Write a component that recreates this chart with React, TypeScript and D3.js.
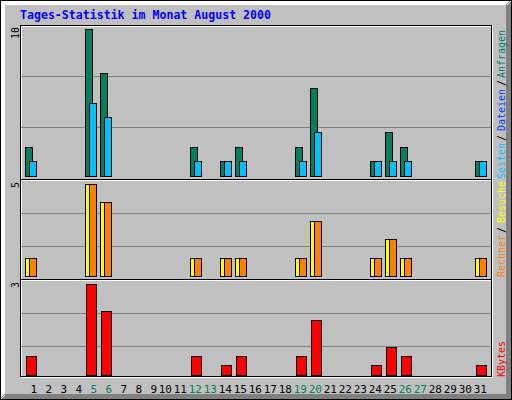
import * as d3 from "d3";
import React from "react";

// Daily statistics for August 2000 (webalizer style)
const days = [1, 2, 3, 4, 5, 6, 7, 8, 9, 10, 11, 12, 13, 14, 15, 16, 17, 18, 19, 20, 21, 22, 23, 24, 25, 26, 27, 28, 29, 30, 31];
const weekendDays = [5, 6, 12, 13, 19, 20, 26, 27];

const hits = [2, 0, 0, 0, 10, 7, 0, 0, 0, 0, 0, 2, 0, 1, 2, 0, 0, 0, 2, 6, 0, 0, 0, 1, 3, 2, 0, 0, 0, 0, 1];
const files = [0, 0, 0, 0, 0, 0, 0, 0, 0, 0, 0, 0, 0, 0, 0, 0, 0, 0, 0, 0, 0, 0, 0, 0, 0, 0, 0, 0, 0, 0, 0];
const pages = [1, 0, 0, 0, 5, 4, 0, 0, 0, 0, 0, 1, 0, 1, 1, 0, 0, 0, 1, 3, 0, 0, 0, 1, 1, 1, 0, 0, 0, 0, 1];
const visits = [1, 0, 0, 0, 5, 4, 0, 0, 0, 0, 0, 1, 0, 1, 1, 0, 0, 0, 1, 3, 0, 0, 0, 1, 2, 1, 0, 0, 0, 0, 1];
const sites = [1, 0, 0, 0, 5, 4, 0, 0, 0, 0, 0, 1, 0, 1, 1, 0, 0, 0, 1, 3, 0, 0, 0, 1, 2, 1, 0, 0, 0, 0, 1];
const kbytes = [0.62, 0, 0, 0, 3, 2.1, 0, 0, 0, 0, 0, 0.62, 0, 0.32, 0.62, 0, 0, 0, 0.62, 1.8, 0, 0, 0, 0.32, 0.91, 0.62, 0, 0, 0, 0, 0.32];

const maxHits = 10;
const maxVisits = 5;
const maxKbytes = 3;

const title = "Tages-Statistik im Monat August 2000";

const BG = "#C0C0C0";
const GRID = "#808080";
const DKGREY = "#808080";
const C_HITS = "#00805C";
const C_FILES = "#0040FF";
const C_PAGES = "#00C0FF";
const C_VISITS = "#FFFF00";
const C_SITES = "#FF8000";
const C_KBYTES = "#FF0000";

const MONO = "'DejaVu Sans Mono', 'Liberation Mono', monospace";

// pixel helpers (column/row based, inclusive)
const HLine = ({ y, x1, x2, c }: any) => <rect x={x1} y={y} width={x2 - x1 + 1} height={1} fill={c} />;
const VLine = ({ x, y1, y2, c }: any) => <rect x={x} y={y1} width={1} height={y2 - y1 + 1} fill={c} />;

const x = d3.scaleLinear().domain([1, 31]).range([25, 475]);
const yHits = d3.scaleLinear().domain([0, maxHits]).range([176, 29]);
const yVisits = d3.scaleLinear().domain([0, maxVisits]).range([276, 184]);
const yKb = d3.scaleLinear().domain([0, maxKbytes]).range([375, 284]);

function bars(values: number[], y: d3.ScaleLinear<number, number>, offset: number, w: number, fill: string, key: string) {
  return values.map((v, i) => {
    if (v <= 0) return null;
    const x1 = x(days[i]) + offset;
    const y1 = Math.round(y(v));
    const y2 = y(0);
    return (
      <rect
        key={key + i}
        x={x1 + 0.5}
        y={y1 + 0.5}
        width={w}
        height={y2 - y1}
        fill={fill}
        stroke="#000"
        strokeWidth={1}
      />
    );
  });
}

const UpText = ({ x0, y0, text, color, len }: any) => (
  <text
    transform={`translate(${x0},${y0}) rotate(-90)`}
    fontFamily={MONO}
    fontSize={10}
    fill={color}
    textLength={len}
    lengthAdjust="spacingAndGlyphs"
  >
    {text}
  </text>
);

export default function App() {
  const bevel = [0, 1, 2, 3, 4];
  return (
    <svg
      width={512}
      height={400}
      style={{ position: "absolute", left: 0, top: 0 }}
      shapeRendering="crispEdges"
    >
      <rect x={0} y={0} width={512} height={400} fill={BG} />
      {bevel.map((i) => (
        <g key={"b" + i}>
          <HLine y={i} x1={i} x2={511 - i} c="#fff" />
          <VLine x={i} y1={i} y2={399 - i} c="#fff" />
          <HLine y={398 - i} x1={i} x2={510 - i} c={DKGREY} />
          <VLine x={510 - i} y1={i} y2={398 - i} c={DKGREY} />
        </g>
      ))}
      <rect x={0.5} y={0.5} width={511} height={399} fill="none" stroke="#000" />

      <text x={20} y={19} fontFamily={MONO} fontWeight="bold" fontSize={11.6} fill="#0000FF" textLength={251} lengthAdjust="spacingAndGlyphs">
        {title}
      </text>

      {/* inner box */}
      <HLine y={26} x1={21} x2={492} c="#fff" />
      <VLine x={21} y1={26} y2={377} c="#fff" />
      <HLine y={377} x1={21} x2={492} c="#fff" />
      <VLine x={492} y1={26} y2={377} c="#fff" />
      <HLine y={25} x1={20} x2={491} c="#000" />
      <VLine x={20} y1={25} y2={376} c="#000" />
      <HLine y={376} x1={20} x2={491} c="#000" />
      <VLine x={491} y1={25} y2={376} c="#000" />

      {/* grid lines (thirds of each panel) */}
      {[76, 127, 213, 246, 313, 346].map((gy) => (
        <HLine key={"g" + gy} y={gy} x1={21} x2={490} c={GRID} />
      ))}

      {/* panel separators */}
      <HLine y={179} x1={21} x2={490} c="#000" />
      <HLine y={180} x1={21} x2={490} c="#fff" />
      <HLine y={279} x1={21} x2={490} c="#000" />
      <HLine y={280} x1={21} x2={490} c="#fff" />

      {/* bars */}
      {bars(hits, yHits, 0, 7, C_HITS, "h")}
      {bars(files, yHits, 2, 7, C_FILES, "f")}
      {bars(pages, yHits, 4, 7, C_PAGES, "p")}
      {bars(visits, yVisits, 0, 7, C_VISITS, "v")}
      {bars(sites, yVisits, 4, 7, C_SITES, "s")}
      {bars(kbytes, yKb, 1, 10, C_KBYTES, "k")}

      {/* max labels */}
      <UpText x0={19} y0={39} text={String(maxHits)} color="#000" len={12} />
      <UpText x0={19} y0={188} text={String(maxVisits)} color="#000" len={6} />
      <UpText x0={19} y0={288} text={String(maxKbytes)} color="#000" len={6} />

      {/* right legend */}
      <UpText x0={505} y0={179} text="Seiten" color={C_PAGES} len={36} />
      <UpText x0={505} y0={141} text="/" color="#000" len={6} />
      <UpText x0={505} y0={131} text="Dateien" color={C_FILES} len={42} />
      <UpText x0={505} y0={86} text="/" color="#000" len={6} />
      <UpText x0={505} y0={78} text="Anfragen" color={C_HITS} len={48} />
      <UpText x0={505} y0={277} text="Rechner" color={C_SITES} len={42} />
      <UpText x0={505} y0={233} text="/" color="#000" len={6} />
      <UpText x0={505} y0={223} text="Besuche" color={C_VISITS} len={42} />
      <UpText x0={505} y0={377} text="KBytes" color={C_KBYTES} len={36} />

      {/* day labels */}
      {days.map((d) => (
        <text
          key={"d" + d}
          x={x(d) + 12}
          y={393}
          textAnchor="end"
          fontFamily={MONO}
          fontSize={11}
          fill={weekendDays.includes(d) ? C_HITS : "#000"}
        >
          {d}
        </text>
      ))}
    </svg>
  );
}
